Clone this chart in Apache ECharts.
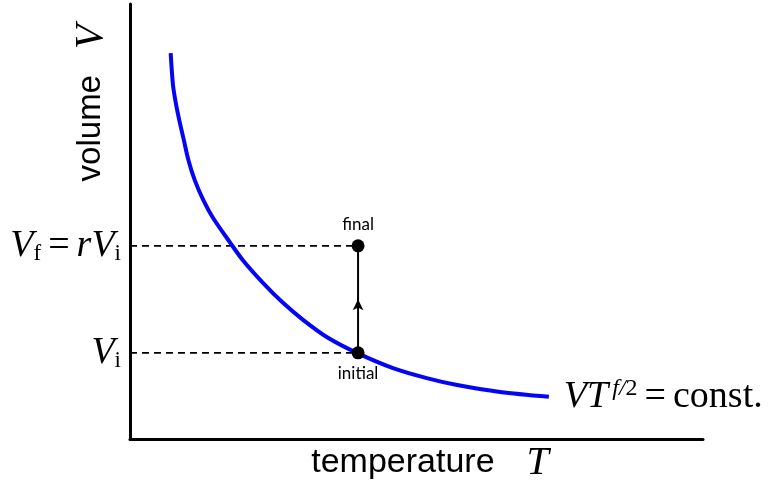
<!DOCTYPE html>
<html>
<head>
<meta charset="utf-8">
<script src="https://cdn.jsdelivr.net/npm/echarts@6/dist/echarts.min.js"></script>
<style>html,body{margin:0;padding:0;background:#fff}#c{width:771px;height:485px}</style>
</head>
<body>
<div id="c"></div>
<script>
// Curve V·T^{f/2} = const. (arbitrary units)
const curveT = [0.71, 0.75, 0.80, 0.86, 0.94, 1.02, 1.13, 1.28, 1.45, 1.75, 1.97, 2.32, 2.67, 3.02, 3.44, 3.96, 4.59, 5.18, 5.71, 6.46, 7.31];
const curveV = [8.87, 8.14, 7.72, 7.33, 6.87, 6.41, 5.95, 5.49, 5.08, 4.51, 4.11, 3.59, 3.13, 2.74, 2.34, 1.98, 1.63, 1.40, 1.24, 1.08, 0.97];
// States
const stateNames = ['initial', 'final'];
const stateT = [3.98, 3.98];
const stateV = [1.98, 4.44];
const axisMin = 0, axisMaxT = 10, axisMaxV = 10;

const serif = 'Liberation Serif';
const sans = 'Liberation Sans';
const mathRich = {
  v: {fontFamily: serif, fontStyle: 'italic', fontSize: 38, lineHeight: 40, color: '#000'},
  n: {fontFamily: serif, fontSize: 38, lineHeight: 40, color: '#000'},
  sp: {fontFamily: serif, fontSize: 38, lineHeight: 40, width: 7},
  sub: {fontFamily: serif, fontSize: 23, lineHeight: 18, verticalAlign: 'bottom', color: '#000'},
  sup: {fontFamily: serif, fontStyle: 'italic', fontSize: 24, lineHeight: 24, verticalAlign: 'top', color: '#000', padding: [0, 0, 0, 4]},
  sn: {fontFamily: serif, fontSize: 24, lineHeight: 24, verticalAlign: 'top', color: '#000'}
};

const chart = echarts.init(document.getElementById('c'));
const curve = curveT.map((t, i) => [t, curveV[i]]);
const pts = stateT.map((t, i) => ({value: [t, stateV[i]], name: stateNames[i],
  label: {show: true, position: i === 0 ? 'bottom' : 'top', distance: 6, formatter: stateNames[i],
    fontFamily: 'Lato', fontSize: 17, color: '#000', opacity: 1}}));
const midV = (stateV[0] + stateV[1]) / 2;

function dashed(idx, fmt) {
  return {
    type: 'line', symbol: 'circle', symbolSize: 0, showSymbol: true, z: 1,
    lineStyle: {color: '#000', width: 1.6, type: [7, 5]},
    data: [
      {value: [axisMin, stateV[idx]], label: {show: true, position: 'left', distance: 9, formatter: fmt, rich: mathRich}},
      {value: [stateT[idx], stateV[idx]]}
    ],
    silent: true
  };
}

chart.setOption({
  animation: false,
  grid: {left: 130, right: 68, top: 4, bottom: 46},
  xAxis: {type: 'value', min: axisMin, max: axisMaxT, axisLine: {lineStyle: {color: '#000', width: 3}},
    axisTick: {show: false}, axisLabel: {show: false}, splitLine: {show: false}},
  yAxis: {type: 'value', min: axisMin, max: axisMaxV, axisLine: {show: true, lineStyle: {color: '#000', width: 3}},
    axisTick: {show: false}, axisLabel: {show: false}, splitLine: {show: false}},
  series: [
    dashed(1, '{v|V}{sub|f}{sp|}{n|=}{sp|}{v|rV}{sub|i}'),
    dashed(0, '{v|V}{sub|i}'),
    {
      type: 'line', symbol: 'none', z: 2, silent: true,
      data: [[stateT[0], stateV[0]], [stateT[1], stateV[1]]],
      lineStyle: {color: '#000', width: 2}
    },
    {
      type: 'scatter', symbol: 'arrow', symbolSize: [8, 11], z: 2, silent: true,
      itemStyle: {color: '#000', opacity: 1},
      data: [[stateT[0], midV]]
    },
    {
      type: 'line', smooth: 0.3, symbol: 'none', z: 3,
      lineStyle: {color: '#0505f5', width: 4},
      data: curve,
      endLabel: {show: true, distance: 15, formatter: '{v|VT}{sup|f/}{sn|2}{sp|}{n|=}{sp|}{n|const.}', rich: mathRich}
    },
    {
      type: 'scatter', symbol: 'circle', symbolSize: 13, z: 4,
      itemStyle: {color: '#000', opacity: 1},
      emphasis: {disabled: true},
      data: pts
    }
  ],
  graphic: [
    {type: 'text', x: 91, y: 103, rotation: Math.PI / 2,
      style: {text: '{s|volume}{m|V}', align: 'center', verticalAlign: 'middle',
        rich: {s: {fontFamily: sans, fontSize: 33, color: '#000'}, m: {fontFamily: serif, fontStyle: 'italic', fontSize: 40, color: '#000', padding: [0, 0, 0, 26]}}}},
    {type: 'text', x: 430, y: 463,
      style: {text: '{s|temperature}{m|T}', align: 'center', verticalAlign: 'middle',
        rich: {s: {fontFamily: sans, fontSize: 34, color: '#000'}, m: {fontFamily: serif, fontStyle: 'italic', fontSize: 40, color: '#000', padding: [0, 0, 0, 32]}}}}
  ]
});
</script>
</body>
</html>
